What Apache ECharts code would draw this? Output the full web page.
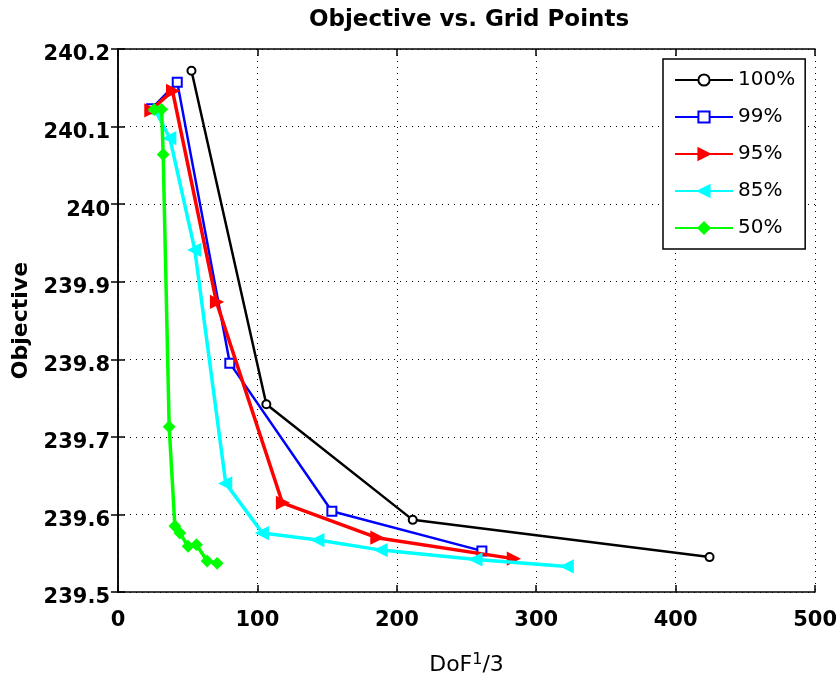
<!DOCTYPE html>
<html>
<head>
<meta charset="utf-8">
<script src="https://cdn.jsdelivr.net/npm/echarts@6/dist/echarts.min.js"></script>
<style>html,body{margin:0;padding:0;background:#fff}#c{width:840px;height:681px}</style>
</head>
<body>
<div id="c"></div>
<script>
const seriesNames = ['100%', '99%', '95%', '85%', '50%'];
const x100 = [52.7, 106.4, 211.4, 424.3];
const y100 = [240.172, 239.742, 239.593, 239.545];
const x99 = [24.1, 42.5, 80.2, 153.4, 261.0];
const y99 = [240.123, 240.157, 239.795, 239.604, 239.553];
const x95 = [23.5, 39.1, 70.6, 117.9, 185.6, 283.5];
const y95 = [240.121, 240.146, 239.874, 239.615, 239.570, 239.543];
const x85 = [27, 37.2, 55.1, 77.3, 103.6, 143.4, 188.8, 256.8, 322.3];
const y85 = [240.12, 240.085, 239.941, 239.640, 239.576, 239.567, 239.554, 239.542, 239.533];
const x50 = [26, 31.3, 32.4, 36.7, 40.8, 44.4, 50.3, 56.3, 63.9, 71.1];
const y50 = [240.122, 240.122, 240.064, 239.713, 239.585, 239.576, 239.559, 239.561, 239.540, 239.537];
const xTicks = [0, 100, 200, 300, 400, 500];
const yTicks = [239.5, 239.6, 239.7, 239.8, 239.9, 240.0, 240.1, 240.2];

const pair = (xs, ys) => xs.map((v, i) => [v, ys[i]]);
const FONT = 'DejaVu Sans';

const styles = [
  {color: '#000000', width: 2.5, symbol: 'emptyCircle', size: 8},
  {color: '#0000ff', width: 2.5, symbol: 'emptyRect', size: 9},
  {color: '#ff0000', width: 3.5, symbol: 'path://M0,0 L10,5 L0,10 Z', size: 11},
  {color: '#00ffff', width: 3.5, symbol: 'path://M10,0 L0,5 L10,10 Z', size: 11},
  {color: '#00ff00', width: 3.5, symbol: 'diamond', size: 10}
];
const data = [pair(x100, y100), pair(x99, y99), pair(x95, y95), pair(x85, y85), pair(x50, y50)];

const chart = echarts.init(document.getElementById('c'), null, {renderer: 'canvas'});
const fmtY = v => {
  const r = Math.round(v * 10) / 10;
  return yTicks.some(t => Math.abs(t - r) < 1e-6) ? String(r) : '';
};
const fmtX = v => xTicks.indexOf(Math.round(v)) >= 0 ? String(Math.round(v)) : '';
const gridDots = {show: true, lineStyle: {color: '#000', width: 1, type: [1, 5]}};
chart.setOption({
  animation: false,
  backgroundColor: '#fff',
  title: {
    text: 'Objective vs. Grid Points',
    left: 464, top: 4, textAlign: 'center',
    textStyle: {fontFamily: FONT, fontSize: 23, fontWeight: 'bold', color: '#000'}
  },
  grid: {left: 118, right: 24, top: 49, bottom: 87, show: false},
  legend: {
    data: seriesNames,
    orient: 'vertical',
    left: 663, top: 59,
    padding: [11, 10, 11, 11],
    itemWidth: 58, itemHeight: 14, itemGap: 17, itemTextGap: 7,
    borderColor: '#000', borderWidth: 1.5, backgroundColor: '#fff',
    textStyle: {fontFamily: FONT, fontSize: 20, color: '#000', lineHeight: 20}
  },
  xAxis: [{
    type: 'value', min: 0, max: 500, interval: 100,
    name: 'DoF{sup|1}/3', nameLocation: 'middle', nameGap: 60,
    nameTextStyle: {fontFamily: FONT, fontSize: 22, color: '#000',
      rich: {sup: {fontFamily: FONT, fontSize: 16, color: '#000', padding: [0, 0, 10, 0]}}},
    axisLine: {show: true, lineStyle: {color: '#000', width: 1.5}},
    axisTick: {show: true, inside: true, length: 7, lineStyle: {color: '#000', width: 1.5}},
    axisLabel: {fontFamily: FONT, fontSize: 21, fontWeight: 'bold', color: '#000', margin: 18, formatter: fmtX},
    splitLine: gridDots
  }, {
    type: 'value', position: 'top', min: 0, max: 500, interval: 100,
    axisLine: {show: true, lineStyle: {color: '#000', width: 1.5}},
    axisTick: {show: true, inside: true, length: 7, lineStyle: {color: '#000', width: 1.5}},
    axisLabel: {show: false}, splitLine: {show: false}
  }],
  yAxis: [{
    type: 'value', min: 239.5, max: 240.2, interval: 0.1,
    name: 'Objective', nameLocation: 'middle', nameGap: 80, nameRotate: 90,
    nameTextStyle: {fontFamily: FONT, fontSize: 22, fontWeight: 'bold', color: '#000'},
    axisLine: {show: true, lineStyle: {color: '#000', width: 1.5}},
    axisTick: {show: true, inside: true, length: 7, lineStyle: {color: '#000', width: 1.5}},
    axisLabel: {fontFamily: FONT, fontSize: 21, fontWeight: 'bold', color: '#000', margin: 8,
      formatter: fmtY, verticalAlign: 'top', lineHeight: 12},
    splitLine: gridDots
  }, {
    type: 'value', position: 'right', min: 239.5, max: 240.2, interval: 0.1,
    axisLine: {show: true, lineStyle: {color: '#000', width: 1.5}},
    axisTick: {show: true, inside: true, length: 7, lineStyle: {color: '#000', width: 1.5}},
    axisLabel: {show: false}, splitLine: {show: false}
  }],
  series: seriesNames.map((n, i) => ({
    name: n, type: 'line', data: data[i],
    xAxisIndex: 0, yAxisIndex: 0,
    symbol: styles[i].symbol, symbolSize: styles[i].size, showAllSymbol: true,
    lineStyle: {color: styles[i].color, width: styles[i].width},
    itemStyle: {color: styles[i].color, borderColor: styles[i].color, borderWidth: 2},
    emphasis: {disabled: true},
    z: 2 + i
  }))
});
</script>
</body>
</html>
